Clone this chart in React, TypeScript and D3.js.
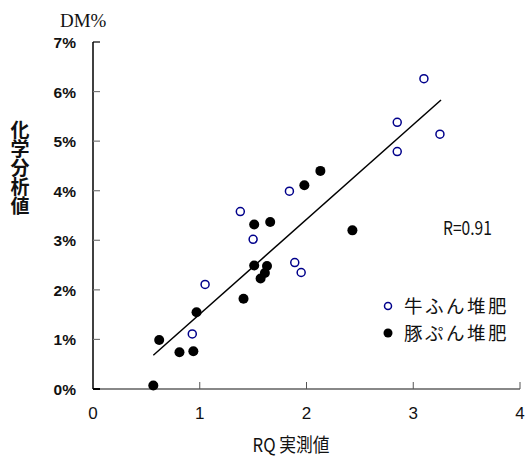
import React from 'react';
import * as d3 from 'd3';

// 牛ふん堆肥 (open circles)
const cowRQ = [3.1, 2.85, 3.25, 2.85, 1.84, 1.38, 1.5, 1.89, 1.95, 1.05, 0.93];
const cowDM = [6.26, 5.38, 5.14, 4.79, 3.99, 3.58, 3.02, 2.55, 2.35, 2.11, 1.11];

// 豚ぷん堆肥 (filled circles)
const pigRQ = [2.13, 1.98, 1.66, 1.51, 2.43, 1.51, 1.63, 1.61, 1.57, 1.41, 0.97, 0.62, 0.81, 0.94, 0.565];
const pigDM = [4.4, 4.11, 3.37, 3.32, 3.2, 2.49, 2.48, 2.34, 2.23, 1.82, 1.55, 0.99, 0.74, 0.76, 0.07];

// regression line end points
const fitRQ = [0.565, 3.26];
const fitDM = [0.68, 5.83];

const xTicks = [0, 1, 2, 3, 4];
const yTicks = [0, 1, 2, 3, 4, 5, 6, 7];

const App = () => {
  const width = 527;
  const height = 460;
  const margin = { left: 93, top: 42, right: 7, bottom: 71 };

  const x = d3.scaleLinear().domain([0, 4]).range([margin.left, width - margin.right]);
  const y = d3.scaleLinear().domain([0, 7]).range([height - margin.bottom, margin.top]);

  const line = d3.line<number>()
    .x(i => x(fitRQ[i]))
    .y(i => y(fitDM[i]));

  const jp = '"Noto Sans CJK JP", sans-serif';
  const sans = '"Liberation Sans", Arial, sans-serif';

  return (
    <svg width={width} height={height} style={{ position: 'absolute', left: 0, top: 0 }}>
      <rect width={width} height={height} fill="#fff" />

      {/* y axis */}
      <line x1={x(0)} x2={x(0)} y1={y(7)} y2={y(0)} stroke="#000" strokeWidth={1.5} />
      {yTicks.map(t => (
        <g key={'y' + t}>
          <line x1={x(0)} x2={x(0) + 7} y1={y(t)} y2={y(t)} stroke={t === 7 ? '#000' : '#777'} strokeWidth={1.2} />
          <text x={76} y={y(t) + 6} textAnchor="end" fontFamily={sans} fontWeight="bold" fontSize={15.5} fill="#111">
            {t}%
          </text>
        </g>
      ))}

      {/* x axis */}
      <line x1={x(0)} x2={x(4)} y1={y(0)} y2={y(0)} stroke="#888" strokeWidth={2} />
      <line x1={x(0)} x2={x(0) + 7} y1={y(0)} y2={y(0)} stroke="#000" strokeWidth={2} />
      {xTicks.map(t => (
        <g key={'x' + t}>
          {t > 0 && <line x1={x(t)} x2={x(t)} y1={y(0)} y2={y(0) - 7} stroke="#555" strokeWidth={1} />}
          <text x={x(t)} y={419} textAnchor="middle" fontFamily={sans} fontSize={17} fill="#111">{t}</text>
        </g>
      ))}

      {/* titles */}
      <text x={60} y={27} fontFamily='"Liberation Serif", "DejaVu Serif", serif' fontSize={19} fill="#111">DM%</text>
      <text x={20} y={120} fontFamily={jp} fontWeight="bold" fontSize={19} fill="#111"
        style={{ writingMode: 'vertical-rl' as any }}>化学分析値</text>
      <text x={291} y={452} textAnchor="middle" fontFamily={jp} fontSize={19} fill="#111"
        transform="translate(291,0) scale(0.88,1) translate(-291,0)">RQ 実測値</text>
      <text x={443} y={235} fontFamily={jp} fontSize={19} fill="#111"
        transform="translate(443,0) scale(0.82,1) translate(-443,0)">R=0.91</text>

      {/* fit line */}
      <path d={line([0, 1]) || ''} fill="none" stroke="#000" strokeWidth={1.5} />

      {/* data */}
      {pigRQ.map((v, i) => (
        <circle key={'p' + i} cx={x(v)} cy={y(pigDM[i])} r={5} fill="#000" />
      ))}
      {cowRQ.map((v, i) => (
        <circle key={'c' + i} cx={x(v)} cy={y(cowDM[i])} r={4} fill="#fff" stroke="#00008b" strokeWidth={1.5} />
      ))}

      {/* legend */}
      <circle cx={388} cy={306} r={3.5} fill="#fff" stroke="#00008b" strokeWidth={1.5} />
      <text x={404} y={313} fontFamily={jp} fontSize={18.5} letterSpacing={2.5} fill="#111">牛ふん堆肥</text>
      <circle cx={388} cy={333} r={4.5} fill="#000" />
      <text x={404} y={340} fontFamily={jp} fontSize={18.5} letterSpacing={2.5} fill="#111">豚ぷん堆肥</text>
    </svg>
  );
};

export default App;
